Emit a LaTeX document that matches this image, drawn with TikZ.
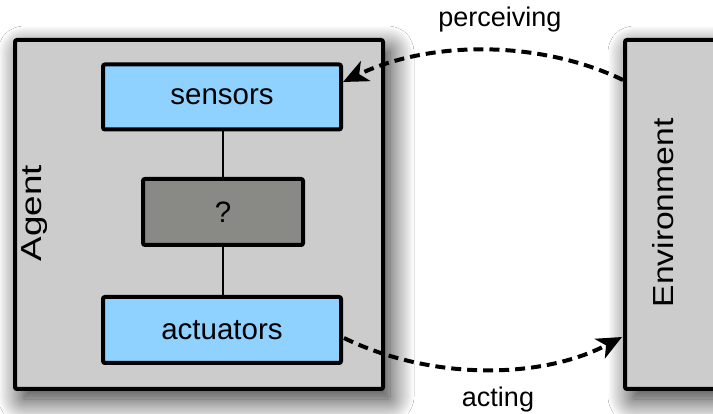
\documentclass[tikz,border=0pt]{standalone}
\usepackage{fontspec}
\setmainfont{Liberation Sans}
\usetikzlibrary{arrows.meta,shadows.blur,calc}
\definecolor{boxgray}{HTML}{CCCCCC}
\definecolor{sensblue}{HTML}{8FD1FF}
\definecolor{darkbox}{HTML}{898A85}
\tikzset{
  outerbox/.style={draw=black, line width=4pt, fill=boxgray, rounded corners=2pt, inner sep=0pt,
    blur shadow={shadow xshift=7pt, shadow yshift=-10pt, shadow blur radius=24pt, shadow blur steps=24, shadow opacity=85}},
  innerbox/.style={draw=black, line width=4pt, fill=sensblue, rounded corners=2pt, inner sep=0pt,
    minimum width=238pt, minimum height=65pt},
  midbox/.style={draw=black, line width=4pt, fill=darkbox, rounded corners=2pt, inner sep=0pt,
    minimum width=160pt, minimum height=66pt},
  lbl/.style={font=\fontsize{29.5}{34}\selectfont, text=black},
  arrlbl/.style={font=\fontsize{27}{31}\selectfont, text=black},
  flow/.style={line width=4pt, dash pattern=on 10pt off 6pt, -{Stealth[length=25pt,width=22pt,inset=7pt]}},
  link/.style={line width=2pt}
}
\begin{document}
\begin{tikzpicture}[x=1pt,y=-1pt]
\useasboundingbox (0,0) rectangle (713,414);
\clip (0,0) rectangle (713,414);
\fill[white] (0,0) rectangle (713,414);
\node[outerbox, minimum width=368pt, minimum height=349pt] (agent) at (199,214.5) {};
\node[outerbox, minimum width=150pt, minimum height=349pt] (env) at (700,214.5) {};
\node[innerbox] (sensors) at (222,97) {};
\node[midbox] (mind) at (223,212) {};
\node[innerbox, minimum height=66pt] (act) at (222,330) {};
\draw[link] (sensors.south -| mind.north) -- (mind.north);
\draw[link] (mind.south) -- (act.north -| mind.south);
\node[lbl] (sensorstxt) at (sensors.center) {sensors};
\node[lbl] (qtxt) at (mind.center) {?};
\node[lbl] (acttxt) at (act.center) {actuators};
\node[font=\fontsize{29}{34}\selectfont, rotate=90, xscale=1.27] (agenttxt) at (35,213) {Agent};
\node[font=\fontsize{29}{34}\selectfont, rotate=90, xscale=1.16] (envtxt) at (663,213) {Environment};
\coordinate (pstart) at (623,80);
\coordinate (pend) at (343,82);
\coordinate (astart) at (344,338);
\coordinate (aend) at (622,337);
\draw[flow] (pstart) .. controls (540,40) and (430,40) .. (pend);
\draw[flow] (astart) .. controls (430,380) and (540,380) .. (aend);
\node[arrlbl] (perc) at (500,20) {perceiving};
\node[arrlbl] (acting) at (498,400) {acting};
\end{tikzpicture}
\end{document}
